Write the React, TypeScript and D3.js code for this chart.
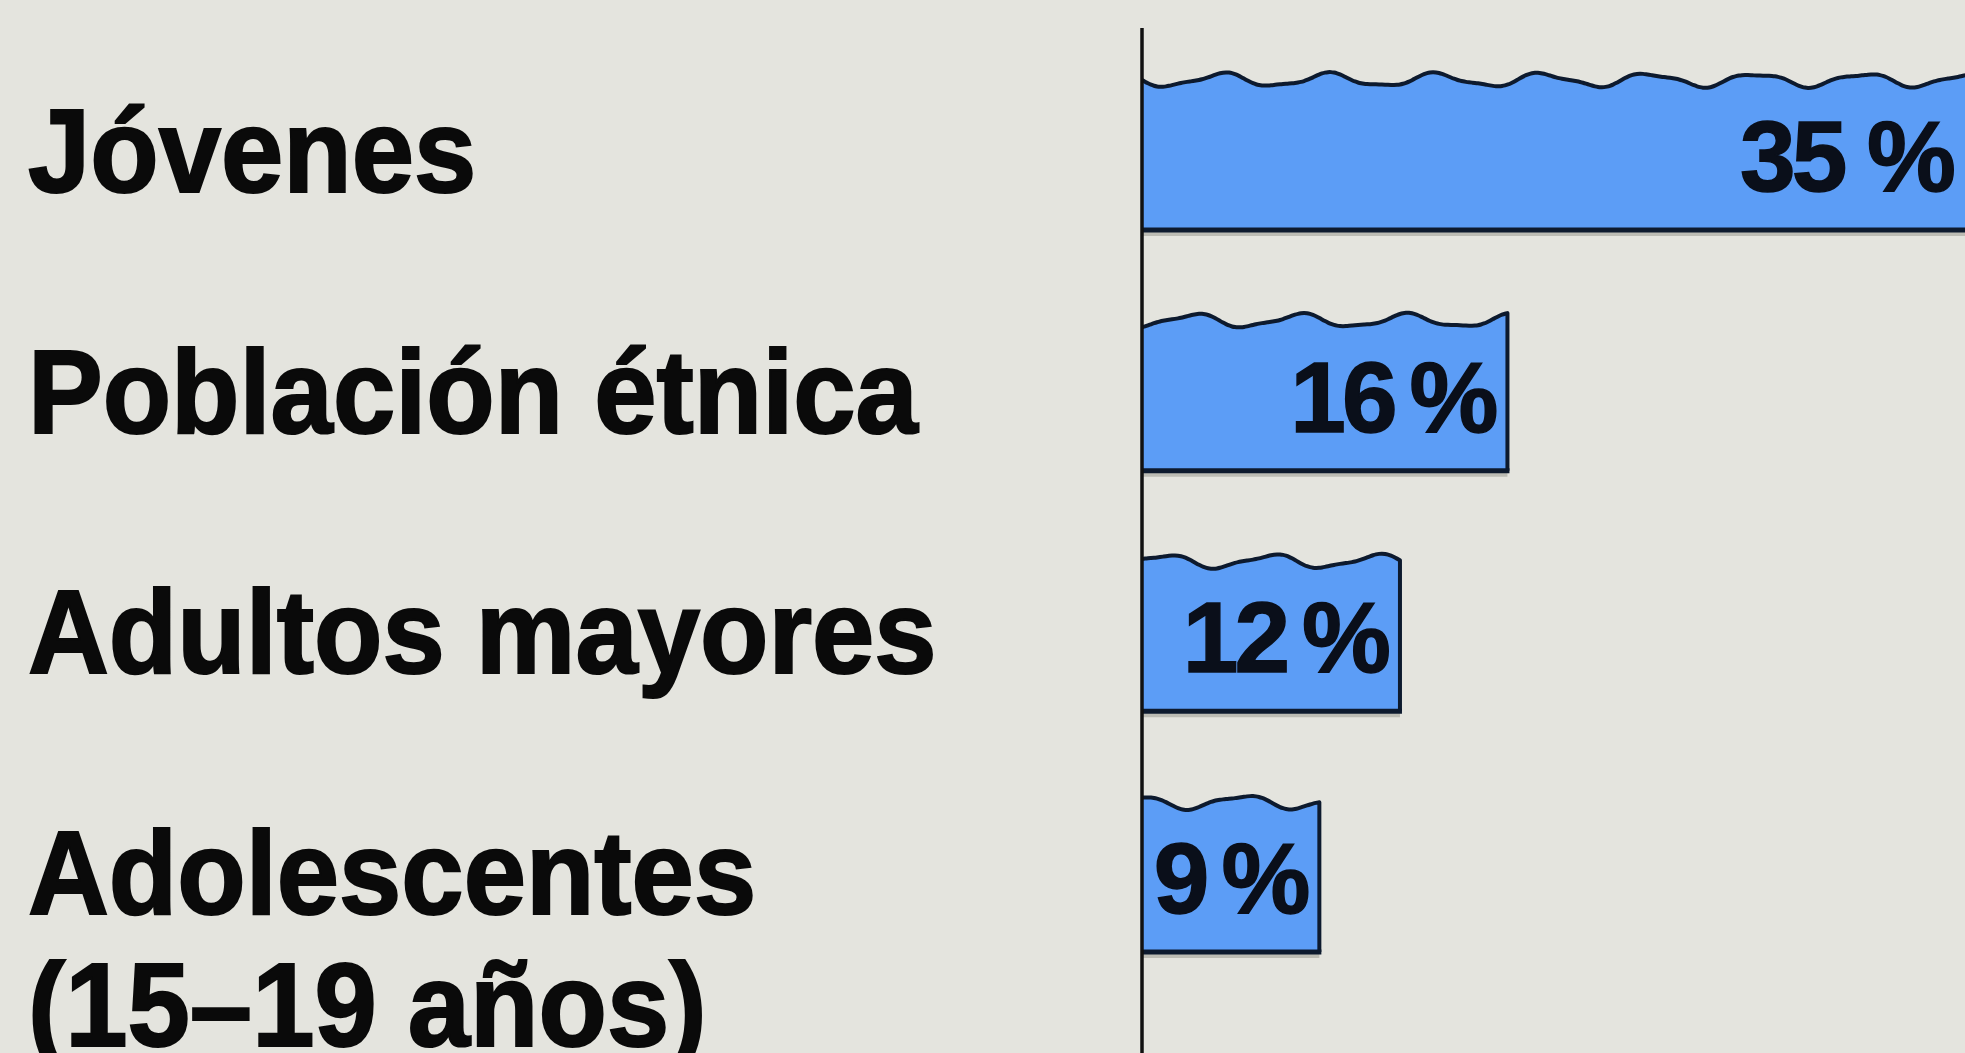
import React, { useEffect } from "react";
import * as d3 from "d3";

const categories = [
  "Jóvenes",
  "Población étnica",
  "Adultos mayores",
  "Adolescentes\n(15–19 años)",
];
const values = [35, 16, 12, 9];
const valueLabels = ["35 %", "16\u2009%", "12\u2009%", "9\u2009%"];

const W = 1965;
const H = 1053;
const AXIS_X = 1142;
const BG = "#e4e4de";
const FILL = "#5c9df6";
const INK = "#0d1a2e";

const x = d3.scaleLinear().domain([2.4, 35]).range([AXIS_X, 2018]);
const y = d3
  .scaleBand<string>()
  .domain(categories)
  .range([80, 952])
  .paddingInner(0.377);

function wave(px: number, i: number) {
  const t = px - AXIS_X;
  return 8 * (0.78 * Math.sin(t / 17 + i * 1.7) + 0.22 * Math.sin(t / 8 + i * 2.9));
}

const line = d3
  .line<[number, number]>()
  .x((d) => d[0])
  .y((d) => d[1])
  .curve(d3.curveBasis);

export default function App() {
  useEffect(() => {
    document.body.style.margin = "0";
    document.body.style.background = BG;
  }, []);

  const bw = y.bandwidth();

  return (
    <svg
      width={W}
      height={H}
      viewBox={`0 0 ${W} ${H}`}
      style={{ position: "absolute", left: 0, top: 0, display: "block", background: BG }}
    >
      <rect x={0} y={0} width={W} height={H} fill={BG} />
      {categories.map((c, i) => {
        const top = y(c) as number;
        const bottom = top + bw;
        const center = top + bw / 2;
        const x0 = AXIS_X;
        const x1 = x(values[i]);
        const xs = d3.range(x0, x1, 3).concat([x1]);
        const topPts: [number, number][] = xs.map((px) => [px, top + wave(px, i)]);
        const topD = line(topPts) as string;
        const lines = c.split("\n");
        const labelRight = Math.min(x1, W) - 13;
        return (
          <g key={c}>
            <path
              d={`${topD}L${x1},${bottom}L${x0},${bottom}Z`}
              fill={FILL}
            />
            <line
              x1={x0}
              x2={x1}
              y1={bottom + 4}
              y2={bottom + 4}
              stroke="#bcbcb4"
              strokeWidth={4}
            />
            <path
              d={`${topD}L${x1},${bottom}`}
              fill="none"
              stroke={INK}
              strokeWidth={4}
              strokeLinejoin="round"
            />
            <line
              x1={x0}
              x2={x1 + 2}
              y1={bottom}
              y2={bottom}
              stroke={INK}
              strokeWidth={5}
            />
            <text
              x={labelRight}
              y={center + 36}
              textAnchor="end"
              fontFamily="'Liberation Sans', Arial, sans-serif"
              fontWeight={700}
              fontSize={100}
              letterSpacing={-4}
              fill="#0a0f1a"
              stroke="#0a0f1a"
              strokeWidth={1.5}
            >
              {valueLabels[i]}
            </text>
            {lines.map((ln, k) => (
              <text
                key={k}
                transform={`translate(28, ${center + 37 + k * 132}) scale(1, 1.06)`}
                fontFamily="'Liberation Sans', Arial, sans-serif"
                fontWeight={700}
                fontSize={112}
                fill="#0a0a0a"
                stroke="#0a0a0a"
                strokeWidth={2}
              >
                {ln}
              </text>
            ))}
          </g>
        );
      })}
      <line
        x1={AXIS_X}
        x2={AXIS_X}
        y1={28}
        y2={H}
        stroke="#111"
        strokeWidth={3.5}
      />
    </svg>
  );
}
